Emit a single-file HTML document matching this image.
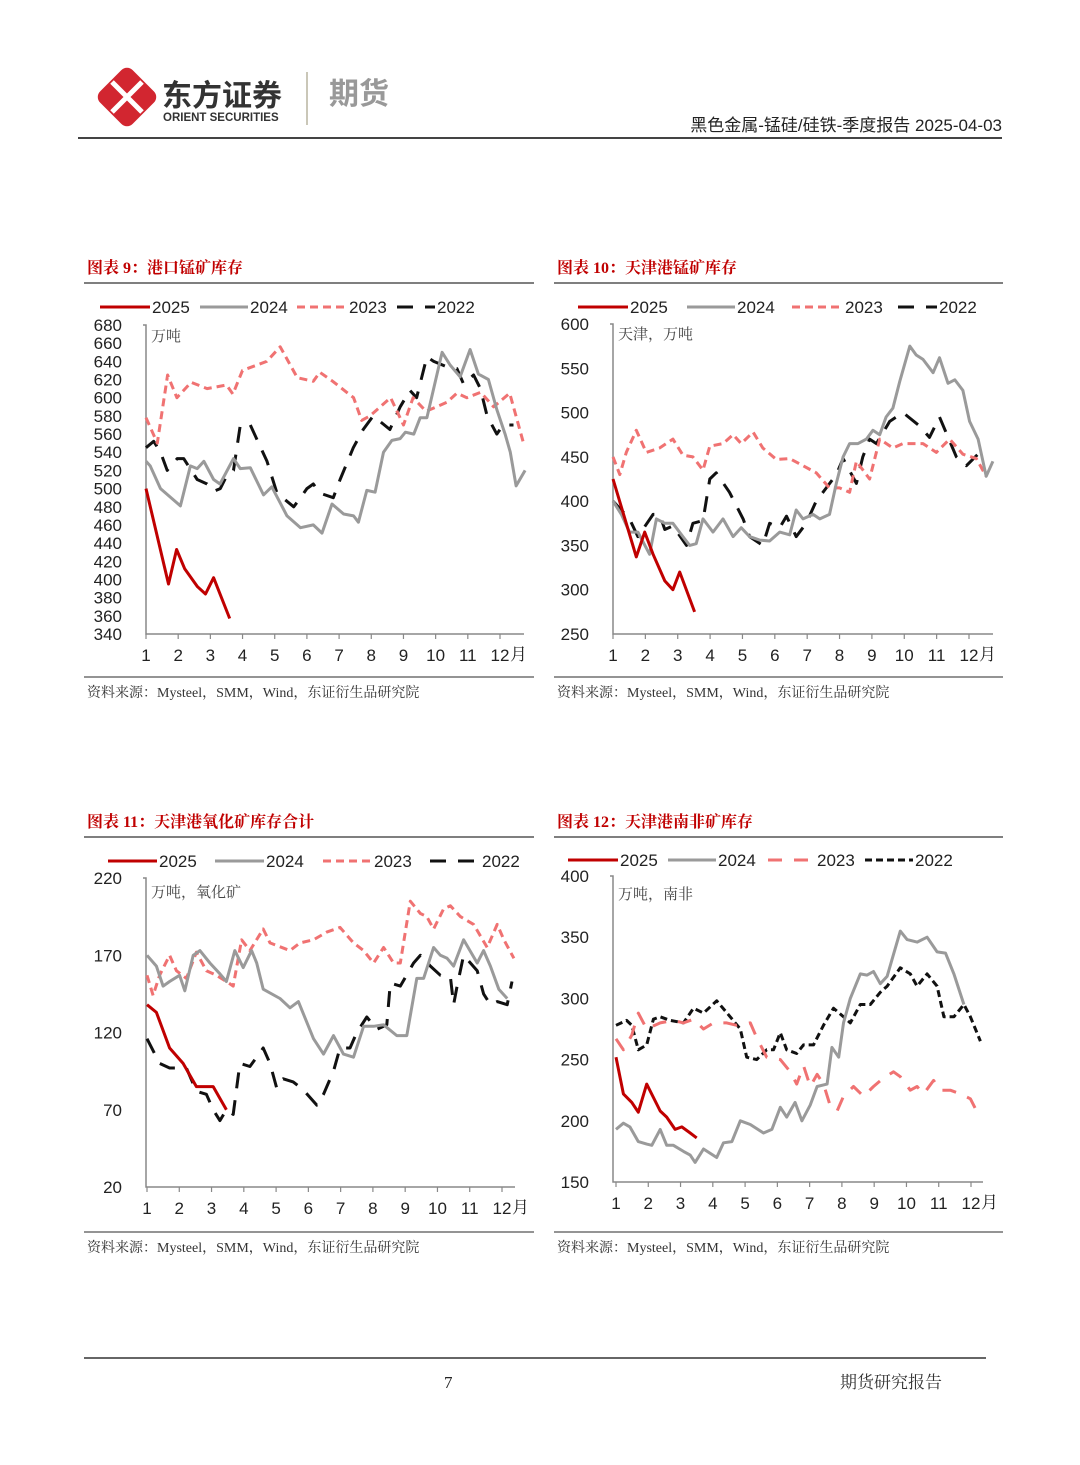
<!DOCTYPE html>
<html><head><meta charset="utf-8"><style>
html,body{margin:0;padding:0;background:#fff}
svg{display:block}
.sans{font-family:"Liberation Sans","Noto Sans CJK SC",sans-serif}
.serif{font-family:"Liberation Serif","Noto Serif CJK SC",serif}
</style></head><body>
<svg id="page" width="1080" height="1465" viewBox="0 0 1080 1465" xmlns="http://www.w3.org/2000/svg">
<g>
  <g>
    <rect x="104" y="74" width="46" height="46" rx="8" fill="#d22630" transform="rotate(45 127 97)"/>
    <path d="M112 82 L142 112 M142 82 L112 112" stroke="#fff" stroke-width="5"/>
  </g>
  <text x="162" y="106" class="sans" font-size="30" font-weight="bold" fill="#333">东方证券</text>
  <text x="163" y="121" class="sans" font-size="11.5" font-weight="bold" fill="#333">ORIENT SECURITIES</text>
  <line x1="307" y1="72" x2="307" y2="125" stroke="#b8b4a0" stroke-width="1.5"/>
  <text x="329" y="104" class="sans" font-size="30" font-weight="bold" fill="#999">期货</text>
  <text x="1002" y="131" text-anchor="end" class="sans" font-size="17" fill="#222">黑色金属-锰硅/硅铁-季度报告 2025-04-03</text>
  <line x1="78" y1="138" x2="1002" y2="138" stroke="#444" stroke-width="2"/>
</g>
<g id="charts"></g>
<g>
  <line x1="84" y1="1358" x2="986" y2="1358" stroke="#333" stroke-width="1.5"/>
  <text x="444" y="1388" class="serif" font-size="17" fill="#222">7</text>
  <text x="840" y="1388" class="serif" font-size="17" fill="#333">期货研究报告</text>
</g>
</svg>
<script>
// ===== Chart 1: 港口锰矿库存 =====
const c1Ticks=[340,360,380,400,420,440,460,480,500,520,540,560,580,600,620,640,660,680];
const c1_2025_m=[1,1.7,1.95,2.2,2.6,2.85,3.1,3.6];
const c1_2025_v=[500,395,433,412,392,384,402,357];
const c1_2024_m=[1,1.13,1.45,2.07,2.38,2.59,2.8,3.1,3.3,3.72,3.93,4.24,4.65,4.91,5.38,5.8,6.2,6.47,6.78,7.14,7.45,7.6,7.86,8.12,8.38,8.64,8.9,9.06,9.32,9.52,9.73,10.2,10.45,10.76,11.07,11.33,11.64,11.9,12.16,12.32,12.5,12.78];
const c1_2024_v=[530,525,500,481,525,522,530,510,505,533,522,523,493,502,470,457,460,451,483,472,470,463,498,496,540,553,555,562,560,578,578,650,636,623,653,626,620,587,560,540,503,520];
const c1_2023_m=[1,1.35,1.67,1.96,2.4,2.9,3.5,3.7,4.0,4.75,5.17,5.7,6.2,6.4,6.8,7.45,7.7,7.96,8.6,9.0,9.3,9.7,10.35,10.66,10.97,11.4,11.8,12.3,12.73];
const c1_2023_v=[578,550,625,600,617,610,614,604,630,640,656,622,618,628,618,600,575,580,600,570,600,585,595,605,600,606,590,605,550];
const c1_2022_m=[1,1.24,1.45,1.66,1.97,2.17,2.59,2.9,3.1,3.31,3.52,3.72,3.93,4.24,4.76,5.07,5.59,5.8,6.0,6.2,6.4,6.82,7.03,7.44,7.75,8.06,8.58,8.9,9.2,9.41,9.73,9.94,10.35,10.66,10.87,11.18,11.39,11.6,11.9,12.1,12.42];
const c1_2022_v=[545,552,540,520,533,533,510,505,497,500,515,520,570,570,530,495,480,490,500,505,495,490,510,545,565,580,565,590,608,600,645,640,634,632,615,625,610,580,560,570,570];
// ===== Chart 2: 天津港锰矿库存 =====
const c2Ticks=[250,300,350,400,450,500,550,600];
const c2_2025_m=[1,1.72,1.98,2.24,2.6,2.85,3.06,3.52];
const c2_2025_v=[425,337,365,340,310,300,320,275];
const c2_2024_m=[1,1.26,1.51,1.77,2.13,2.34,2.6,2.85,3.16,3.37,3.57,3.78,4.09,4.4,4.71,4.96,5.22,5.53,5.84,6.15,6.46,6.66,6.87,7.18,7.39,7.69,7.9,8.11,8.31,8.57,8.83,9.03,9.24,9.44,9.65,9.86,10.17,10.37,10.58,10.89,11.09,11.35,11.56,11.81,12.02,12.28,12.53,12.74];
const c2_2024_v=[400,385,365,365,340,380,375,375,360,350,352,380,365,380,360,370,360,356,355,365,362,390,380,385,380,385,420,450,465,465,470,480,475,495,505,535,575,565,560,545,562,533,537,525,490,470,428,445];
const c2_2023_m=[1,1.21,1.41,1.72,2.03,2.44,2.85,3.16,3.47,3.78,3.99,4.4,4.71,4.96,5.33,5.63,6.05,6.46,6.87,7.28,7.69,8.0,8.31,8.52,8.93,9.24,9.65,9.96,10.58,10.99,11.4,11.81,12.23,12.53];
const c2_2023_v=[450,430,455,480,455,460,470,452,450,435,462,465,475,465,478,460,447,448,440,432,415,415,410,445,425,470,460,465,465,455,470,453,448,428];
const c2_2022_m=[1,1.51,1.77,2.24,2.44,2.6,2.85,3.27,3.47,3.78,3.99,4.19,4.6,5.02,5.22,5.63,5.84,6.15,6.36,6.66,6.97,7.28,7.59,7.9,8.11,8.52,8.72,8.93,9.14,9.55,9.96,10.47,10.78,11.09,11.61,11.92,12.33];
const c2_2022_v=[400,380,360,385,385,368,372,350,375,378,425,432,410,380,360,350,375,370,383,360,375,400,415,430,448,420,450,470,465,490,500,485,472,495,450,440,455];
// ===== Chart 3: 天津港氧化矿库存合计 =====
const c3Ticks=[20,70,120,170,220];
const c3_2025_m=[1,1.29,1.7,2.12,2.53,3.05,3.46];
const c3_2025_v=[138,133,110,100,85,85,70];
const c3_2024_m=[1,1.29,1.5,1.7,2.01,2.17,2.43,2.64,2.95,3.26,3.46,3.72,3.98,4.24,4.4,4.6,5.12,5.43,5.69,6.16,6.47,6.78,7.09,7.4,7.71,8.02,8.33,8.74,9.05,9.36,9.57,9.88,10.09,10.3,10.5,10.81,11.23,11.43,11.64,11.9,12.16];
const c3_2024_v=[170,163,150,153,157,147,170,173,165,158,153,173,162,173,165,148,142,136,140,116,106,118,106,104,124,124,125,118,118,155,155,175,170,168,163,180,165,173,163,148,142];
const c3_2023_m=[1,1.19,1.39,1.7,1.91,2.22,2.53,2.84,3.15,3.46,3.67,3.93,4.19,4.6,4.81,5.43,5.74,6.16,6.57,6.98,7.4,7.71,8.02,8.33,8.64,8.85,9.16,9.47,9.67,9.88,10.19,10.4,10.71,11.12,11.54,11.85,12.06,12.37];
const c3_2023_v=[157,144,157,170,160,155,172,160,157,153,150,180,173,187,178,173,178,180,185,188,178,173,165,175,165,165,205,197,195,187,200,202,195,190,175,190,180,168];
const c3_2022_m=[1,1.39,1.7,2.22,2.53,2.84,3.05,3.26,3.46,3.67,3.88,4.19,4.6,4.81,5.02,5.22,5.53,5.84,6.26,6.47,6.78,6.98,7.29,7.5,7.81,8.12,8.43,8.54,8.85,9.26,9.47,9.78,10.09,10.4,10.5,10.61,10.81,11.23,11.43,11.64,11.85,12.16,12.31];
const c3_2022_v=[116,100,97,97,82,80,70,63,70,67,100,98,110,100,84,90,88,83,73,80,95,110,110,120,130,122,125,152,150,165,170,163,157,156,138,150,170,160,145,138,140,138,153];
// ===== Chart 4: 天津港南非矿库存 =====
const c4Ticks=[150,200,250,300,350,400];
const c4_2025_m=[1,1.23,1.49,1.69,1.95,2.37,2.57,2.83,3.04,3.3,3.5];
const c4_2025_v=[252,222,215,207,230,208,203,193,195,190,186];
const c4_2024_m=[1,1.23,1.43,1.69,1.95,2.11,2.37,2.57,2.78,3.09,3.3,3.45,3.71,4.12,4.33,4.59,4.85,5.16,5.57,5.83,6.09,6.29,6.55,6.76,7.02,7.23,7.54,7.69,7.9,8.05,8.26,8.57,8.78,8.98,9.19,9.4,9.81,10.02,10.33,10.64,10.95,11.21,11.47,11.78];
const c4_2024_v=[193,198,195,183,181,180,193,180,180,175,172,166,177,170,182,183,200,197,190,193,211,203,215,200,213,228,230,260,252,280,300,320,319,322,312,318,355,348,346,350,338,337,320,295];
const c4_2023_m=[1,1.23,1.49,1.69,1.95,2.37,2.78,3.09,3.4,3.71,4.02,4.43,4.74,5.16,5.36,5.67,6.09,6.4,6.6,6.81,7.02,7.23,7.43,7.64,7.85,8.05,8.36,8.67,8.98,9.29,9.6,9.81,10.12,10.33,10.53,10.84,11.05,11.36,11.67,11.98,12.29];
const c4_2023_v=[267,258,270,288,275,280,282,280,283,275,280,280,278,280,268,252,250,240,230,245,228,238,230,212,208,220,228,220,228,235,240,236,225,228,222,233,225,225,222,218,202];
const c4_2022_m=[1,1.33,1.49,1.69,1.95,2.16,2.37,2.68,3.09,3.4,3.71,4.12,4.54,4.85,5.05,5.36,5.67,5.88,6.09,6.29,6.6,6.81,7.12,7.43,7.74,8.05,8.26,8.57,8.88,9.19,9.4,9.81,10.12,10.33,10.64,10.95,11.16,11.47,11.78,11.98,12.29];
const c4_2022_v=[278,282,278,258,262,283,285,282,280,292,288,298,285,275,252,250,258,258,272,258,255,262,262,278,292,285,280,295,295,305,310,325,320,310,320,310,285,285,295,285,265];

const NS='http://www.w3.org/2000/svg';
const root=document.getElementById('charts');
function mk(tag,attrs,parent){const e=document.createElementNS(NS,tag);for(const k in attrs)e.setAttribute(k,attrs[k]);parent.appendChild(e);return e;}

const C25='#c00000',C24='#9a9a9a',C23='#f07272',C22='#111';

function drawChart(cfg){
  const g=mk('g',{},root);
  
  
  const sx=m=>cfg.x1+(m-1)*(cfg.x12-cfg.x1)/11;
  const sy=v=>cfg.yBot-(v-cfg.vMin)/(cfg.vMax-cfg.vMin)*(cfg.yBot-cfg.yTop);
  const t=mk('text',{x:cfg.tx,y:cfg.ty,'class':'serif','font-size':16,'font-weight':'bold',fill:'#c00000'},g);
  t.textContent=cfg.title;
  
  
  const tl=mk('line',{x1:cfg.lx1,x2:cfg.lx2,y1:cfg.ty+10,y2:cfg.ty+10,stroke:'#555','stroke-width':1.5},g);
  
  
  const sl=mk('line',{x1:cfg.lx1,x2:cfg.lx2,y1:cfg.srcY,y2:cfg.srcY,stroke:'#555','stroke-width':1.2},g);
  
  
  const st=mk('text',{x:cfg.tx,y:cfg.srcY+20,'class':'serif','font-size':14,fill:'#333'},g);
  st.textContent='资料来源：Mysteel，SMM，Wind，东证衍生品研究院';
  
  
  const ax=mk('path',{d:`M${cfg.axL-3} ${cfg.yTop} H${cfg.axL} V${cfg.yBot} H${cfg.axR}`,fill:'none',stroke:'#888','stroke-width':1.5},g);
  
  
  cfg.ticks.forEach(v=>{
    const tx=mk('text',{x:cfg.axL-24,y:sy(v)+6,'text-anchor':'end','class':'sans','font-size':17,fill:'#222'},g);
    tx.textContent=v;
    
    
  });
  for(let m=1;m<=12;m++){
    mk('line',{x1:sx(m),x2:sx(m),y1:cfg.yBot,y2:cfg.yBot+5,stroke:'#888','stroke-width':1.2},g);
    const lb=mk('text',{x:sx(m),y:cfg.yBot+27,'text-anchor':'middle','class':'sans','font-size':17,fill:'#222'},g);
    lb.textContent=m;
    
    
  }
  const yue=mk('text',{x:sx(12)+10,y:cfg.yBot+26,'class':'serif','font-size':17,fill:'#222'},g);
  yue.textContent='月';
  
  
  const un=mk('text',{x:cfg.axL+5,y:cfg.unitY,'class':'serif','font-size':15,fill:'#444'},g);
  un.textContent=cfg.unit;
  
  
  for(let i=cfg.series.length-1;i>=0;i--){
    const s=cfg.series[i];
    const d=s.m.map((m,k)=>(k?'L':'M')+sx(m).toFixed(1)+' '+sy(s.v[k]).toFixed(1)).join(' ');
    const p=mk('path',{d:d,fill:'none',stroke:s.c,'stroke-width':3,'stroke-linejoin':'round'},g);
    if(s.dash)p.setAttribute('stroke-dasharray',s.dash);
    
    
  }
  cfg.series.forEach((s,i)=>{
    const L=cfg.legend[i];
    const ll=mk('line',{x1:L[0],x2:L[1],y1:cfg.legY,y2:cfg.legY,stroke:s.c,'stroke-width':3},g);
    if(s.dash)ll.setAttribute('stroke-dasharray',s.dash);
    
    
    const lt=mk('text',{x:L[1]+2,y:cfg.legY+6,'class':'sans','font-size':17,fill:'#222'},g);
    lt.textContent=s.n;
    
    
  });
}

function mkSeries(a,b,c,d,dash23,dash22){
  return [
    {n:'2025',m:a[0],v:a[1],c:C25},
    {n:'2024',m:b[0],v:b[1],c:C24},
    {n:'2023',m:c[0],v:c[1],c:C23,dash:dash23},
    {n:'2022',m:d[0],v:d[1],c:C22,dash:dash22}
  ];
}

drawChart({name:'chart-port-manganese-inventory',title:'图表 9：港口锰矿库存',tx:87,ty:273,lx1:84,lx2:534,srcY:677,
  x1:146,x12:500,yTop:325,yBot:634,vMin:340,vMax:680,axL:146,axR:524,ticks:c1Ticks,unit:'万吨',unitY:341,legY:307,
  legend:[[100,150],[200,248],[297,347],[397,435]],
  series:mkSeries([c1_2025_m,c1_2025_v],[c1_2024_m,c1_2024_v],[c1_2023_m,c1_2023_v],[c1_2022_m,c1_2022_v],'8,5','16,12')});
drawChart({name:'chart-tianjin-manganese-inventory',title:'图表 10：天津港锰矿库存',tx:557,ty:273,lx1:554,lx2:1003,srcY:677,
  x1:613,x12:969,yTop:324,yBot:634,vMin:250,vMax:600,axL:613,axR:993,ticks:c2Ticks,unit:'天津，万吨',unitY:339,legY:307,
  legend:[[578,628],[687,735],[792,843],[898,937]],
  series:mkSeries([c2_2025_m,c2_2025_v],[c2_2024_m,c2_2024_v],[c2_2023_m,c2_2023_v],[c2_2022_m,c2_2022_v],'8,5','16,12')});
drawChart({name:'chart-tianjin-oxide-ore-inventory',title:'图表 11：天津港氧化矿库存合计',tx:87,ty:827,lx1:84,lx2:534,srcY:1232,
  x1:147,x12:502,yTop:878,yBot:1187,vMin:20,vMax:220,axL:146,axR:515,ticks:c3Ticks,unit:'万吨，氧化矿',unitY:897,legY:861,
  legend:[[108,157],[215,264],[323,372],[430,480]],
  series:mkSeries([c3_2025_m,c3_2025_v],[c3_2024_m,c3_2024_v],[c3_2023_m,c3_2023_v],[c3_2022_m,c3_2022_v],'8,5','16,12')});
drawChart({name:'chart-tianjin-south-africa-ore-inventory',title:'图表 12：天津港南非矿库存',tx:557,ty:827,lx1:554,lx2:1003,srcY:1232,
  x1:616,x12:971,yTop:876,yBot:1182,vMin:150,vMax:400,axL:613,axR:983,ticks:c4Ticks,unit:'万吨，南非',unitY:899,legY:860,
  legend:[[568,618],[668,716],[768,815],[865,913]],
  series:mkSeries([c4_2025_m,c4_2025_v],[c4_2024_m,c4_2024_v],[c4_2023_m,c4_2023_v],[c4_2022_m,c4_2022_v],'14,12','7,4')});
</script>
</body></html>
